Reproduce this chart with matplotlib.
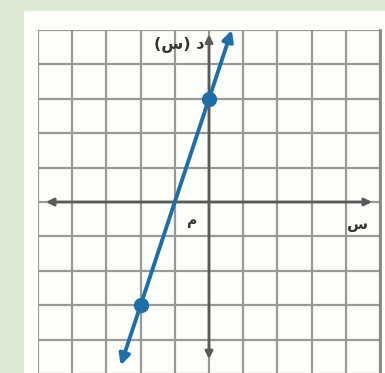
import numpy as np
import matplotlib.pyplot as plt
from matplotlib.patches import Rectangle

plt.rcParams['font.family'] = ['DejaVu Sans']

# points on the line
pts_x = [-2, 0]
pts_y = [-3, 3]
# grid range
x_min, x_max = -5, 5
y_min, y_max = -5, 5
# labels (as drawn, left to right)
lbl_y = '(س) د'
lbl_x = 'س'
lbl_o = 'م'

fig = plt.figure(figsize=(3.85, 3.73), dpi=100)
fig.patch.set_facecolor('#dfe9d6')
# white card behind the grid
fig.patches.append(Rectangle((24/385, 0), 1, 1 - 11/373, transform=fig.transFigure,
                             facecolor='#fdfdfa', edgecolor='none', zorder=0))

ax = fig.add_axes([38/385, -1/373, 342/385, 344/373])
ax.set_zorder(2)
ax.set_facecolor('#fdfdfa')
ax.set_xlim(x_min, x_max)
ax.set_ylim(y_min, y_max)
ax.set_xticks(np.arange(x_min, x_max + 1))
ax.set_yticks(np.arange(y_min, y_max + 1))
ax.grid(True, color='#999999', lw=1.6)
ax.tick_params(length=0, labelbottom=False, labelleft=False)
for s in ax.spines.values():
    s.set_visible(False)
ax.spines['right'].set_visible(True)
ax.spines['right'].set_color('#888888')
ax.spines['right'].set_linewidth(2)

# axes with arrows
ax.annotate('', xy=(-4.85, 0), xytext=(4.85, 0),
            arrowprops=dict(arrowstyle='<|-|>', color='#5a5a5a', lw=2, mutation_scale=11))
ax.annotate('', xy=(0, 4.95), xytext=(0, -4.65),
            arrowprops=dict(arrowstyle='<|-|>', color='#5a5a5a', lw=2, mutation_scale=11))

# line through the points
m = (pts_y[1] - pts_y[0]) / (pts_x[1] - pts_x[0])
b = pts_y[0] - m * pts_x[0]
y_top, y_bot = 5.0, -4.75
ax.annotate('', xy=((y_top - b) / m, y_top), xytext=((y_bot - b) / m, y_bot),
            arrowprops=dict(arrowstyle='<|-|>', color='#1f6fa6', lw=2.8, mutation_scale=16,
                            shrinkA=0, shrinkB=0))
ax.plot(pts_x, pts_y, 'o', color='#1f6fa6', ms=10, zorder=5)

ax.text(-0.12, 4.55, lbl_y, ha='right', va='center', fontsize=11.5, fontweight='bold', color='#333333')
ax.text(-0.48, -0.55, lbl_o, ha='center', va='center', fontsize=10, fontweight='bold', color='#333333')
ax.text(4.35, -0.65, lbl_x, ha='center', va='center', fontsize=11, fontweight='bold', color='#333333')

fig.savefig('out.png', dpi=100, facecolor=fig.get_facecolor())
